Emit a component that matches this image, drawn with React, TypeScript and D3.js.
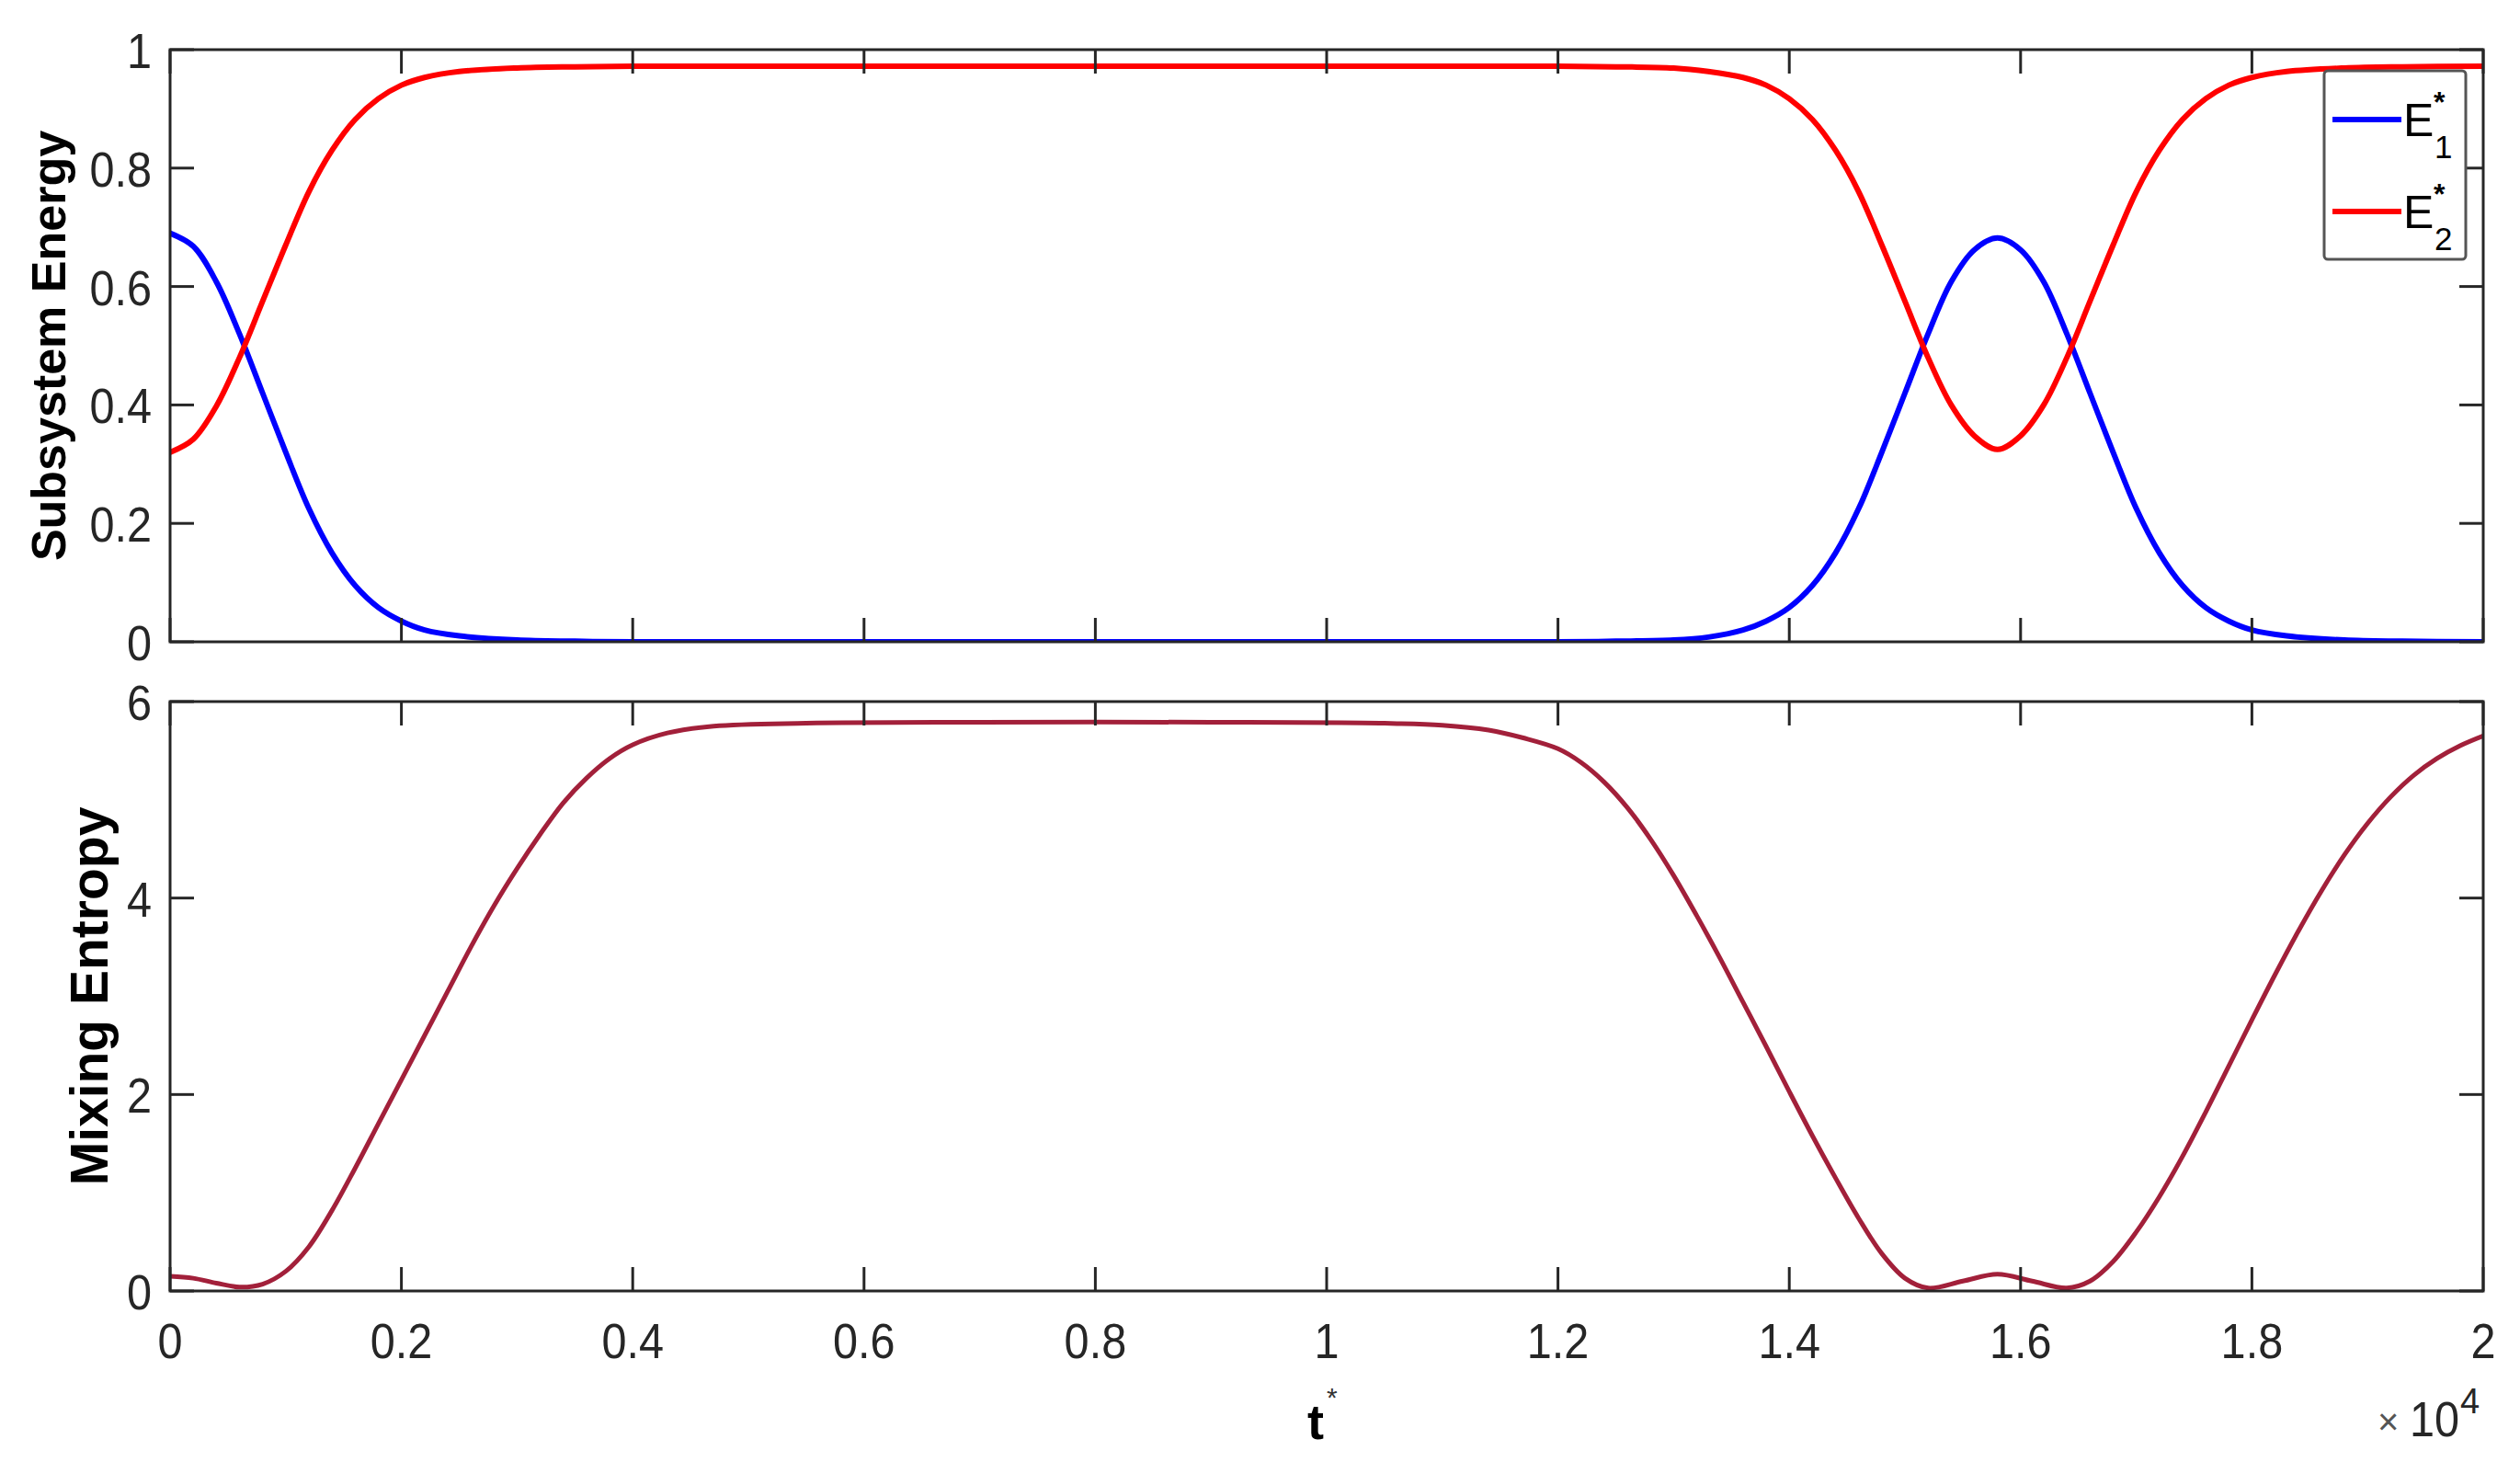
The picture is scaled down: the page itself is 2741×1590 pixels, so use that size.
import React from "react";
import * as d3 from "d3";

// ---- data (t in units of 1e4) ----
const energyT = [0,0.02,0.04,0.06,0.08,0.10,0.12,0.14,0.16,0.18,0.20,0.22,0.25,0.30,0.35,0.40,0.60,0.80,1.00,1.20,1.25,1.30,1.33,1.36,1.38,1.40,1.42,1.44,1.46,1.48,1.50,1.52,1.54,1.56,1.58,1.60,1.62,1.64,1.66,1.68,1.70,1.72,1.74,1.76,1.78,1.80,1.83,1.88,1.93,2.00];
const e1Values = [0.69,0.668,0.608,0.52,0.42,0.32,0.225,0.15,0.095,0.058,0.035,0.02,0.01,0.003,0.001,0,0,0,0,0,0.001,0.003,0.008,0.02,0.035,0.058,0.095,0.15,0.225,0.32,0.42,0.52,0.608,0.662,0.682,0.662,0.608,0.52,0.42,0.32,0.225,0.15,0.095,0.058,0.035,0.02,0.01,0.003,0.001,0];
const e2Values = [0.32,0.342,0.398,0.48,0.575,0.67,0.76,0.83,0.882,0.917,0.94,0.953,0.963,0.969,0.971,0.972,0.972,0.972,0.972,0.972,0.971,0.969,0.963,0.953,0.94,0.917,0.882,0.83,0.76,0.67,0.575,0.48,0.40,0.348,0.325,0.348,0.40,0.48,0.575,0.67,0.76,0.83,0.882,0.917,0.94,0.953,0.963,0.969,0.971,0.972];

const entropyT = [0,0.02,0.04,0.06,0.08,0.10,0.12,0.14,0.16,0.18,0.20,0.22,0.24,0.26,0.28,0.30,0.32,0.34,0.36,0.38,0.40,0.43,0.47,0.55,0.70,0.90,1.05,1.10,1.14,1.17,1.20,1.22,1.24,1.26,1.28,1.30,1.32,1.34,1.36,1.38,1.40,1.42,1.44,1.46,1.48,1.50,1.52,1.55,1.58,1.61,1.64,1.66,1.68,1.70,1.72,1.74,1.76,1.78,1.80,1.82,1.84,1.86,1.88,1.90,1.92,1.94,1.96,1.98,2.00];
const entropyValues = [0.15,0.13,0.08,0.04,0.07,0.2,0.45,0.82,1.25,1.7,2.15,2.6,3.05,3.5,3.92,4.3,4.65,4.97,5.22,5.42,5.56,5.68,5.75,5.78,5.79,5.79,5.78,5.76,5.71,5.63,5.52,5.38,5.18,4.92,4.6,4.23,3.82,3.39,2.94,2.49,2.03,1.58,1.15,0.74,0.38,0.13,0.03,0.1,0.17,0.1,0.03,0.1,0.3,0.6,0.96,1.37,1.82,2.29,2.76,3.22,3.66,4.07,4.44,4.76,5.03,5.25,5.42,5.55,5.65];

const xTicks = [0,0.2,0.4,0.6,0.8,1,1.2,1.4,1.6,1.8,2];
const xTickLabels = ["0","0.2","0.4","0.6","0.8","1","1.2","1.4","1.6","1.8","2"];
const energyTicks = [0,0.2,0.4,0.6,0.8,1];
const energyTickLabels = ["0","0.2","0.4","0.6","0.8","1"];
const entropyTicks = [0,2,4,6];
const entropyTickLabels = ["0","2","4","6"];

const W = 2741, H = 1590;
const X0 = 185, X1 = 2701;
const TOP = { y0: 54, y1: 698 };
const BOT = { y0: 763, y1: 1404 };
const AX = "#262626";
const FONT = "'Liberation Sans', Arial, Helvetica, sans-serif";
const TICK_FS = 54;
const TICK_LEN = 26;

function Axes({ y, yTicks, yLabels, showX }) {
  const x = d3.scaleLinear().domain([0, 2]).range([X0, X1]);
  const [ya, yb] = y.range();
  const top = Math.min(ya, yb), bot = Math.max(ya, yb);
  return (
    <g>
      {xTicks.map((t, i) => (
        <g key={"xt" + i}>
          <line x1={x(t)} x2={x(t)} y1={bot} y2={bot - TICK_LEN} stroke={AX} strokeWidth={3} />
          <line x1={x(t)} x2={x(t)} y1={top} y2={top + TICK_LEN} stroke={AX} strokeWidth={3} />
          {showX && (
            <g transform={`translate(${x(t)},${bot + 73}) scale(0.9,1)`}>
              <text textAnchor="middle" fontFamily={FONT} fontSize={TICK_FS} fill={AX}>{xTickLabels[i]}</text>
            </g>
          )}
        </g>
      ))}
      {yTicks.map((v, i) => (
        <g key={"yt" + i}>
          <line x1={X0} x2={X0 + TICK_LEN} y1={y(v)} y2={y(v)} stroke={AX} strokeWidth={3} />
          <line x1={X1} x2={X1 - TICK_LEN} y1={y(v)} y2={y(v)} stroke={AX} strokeWidth={3} />
          <g transform={`translate(${X0 - 20},${y(v) + 20}) scale(0.9,1)`}>
            <text textAnchor="end" fontFamily={FONT} fontSize={TICK_FS} fill={AX}>{yLabels[i]}</text>
          </g>
        </g>
      ))}
      <rect x={X0} y={top} width={X1 - X0} height={bot - top} fill="none" stroke={AX} strokeWidth={3} />
    </g>
  );
}

export default function App() {
  const x = d3.scaleLinear().domain([0, 2]).range([X0, X1]);
  const yE = d3.scaleLinear().domain([0, 1]).range([TOP.y1, TOP.y0]);
  const yS = d3.scaleLinear().domain([0, 6]).range([BOT.y1, BOT.y0]);
  const curve = d3.curveCatmullRom.alpha(0.5);

  const e1Path = d3.line<number>().x((_, i) => x(energyT[i])).y((v) => yE(v)).curve(curve)(e1Values);
  const e2Path = d3.line<number>().x((_, i) => x(energyT[i])).y((v) => yE(v)).curve(curve)(e2Values);
  const sPath = d3.line<number>().x((_, i) => x(entropyT[i])).y((v) => yS(v)).curve(curve)(entropyValues);

  return (
    <svg width={W} height={H} style={{ position: "absolute", left: 0, top: 0, background: "#fff" }}>
      <rect x={0} y={0} width={W} height={H} fill="#fff" />
      <defs>
        <clipPath id="clipTop"><rect x={X0} y={TOP.y0 - 4} width={X1 - X0} height={TOP.y1 - TOP.y0 + 4} /></clipPath>
        <clipPath id="clipBot"><rect x={X0} y={BOT.y0} width={X1 - X0} height={BOT.y1 - BOT.y0} /></clipPath>
      </defs>
      {/* top panel */}
      <g clipPath="url(#clipTop)">
        <path d={e1Path} fill="none" stroke="#0000ff" strokeWidth={6} />
        <path d={e2Path} fill="none" stroke="#ff0000" strokeWidth={6} />
      </g>
      <Axes y={yE} yTicks={energyTicks} yLabels={energyTickLabels} showX={false} />
      <text transform={`translate(71,${(TOP.y0 + TOP.y1) / 2}) rotate(-90)`} textAnchor="middle" fontFamily={FONT} fontWeight="bold" fontSize={52} fill="#000">Subsystem Energy</text>

      {/* legend */}
      <rect x={2528} y={77} width={154} height={205} rx={4} fill="#fff" stroke="#555" strokeWidth={3} />
      <line x1={2537} x2={2612} y1={130} y2={130} stroke="#0000ff" strokeWidth={6} />
      <line x1={2537} x2={2612} y1={230} y2={230} stroke="#ff0000" strokeWidth={6} />
      {[["1", 148], ["2", 248]].map(([sub, base]) => (
        <g key={sub}>
          <text x={2614} y={base} fontFamily={FONT} fontSize={50} fill="#000">E</text>
          <text x={2648} y={base + 24} fontFamily={FONT} fontSize={35} fill="#000">{sub}</text>
          <text x={2647} y={base - 26} fontFamily={FONT} fontSize={32} fontWeight="bold" fill="#000">*</text>
        </g>
      ))}

      {/* bottom panel */}
      <g clipPath="url(#clipBot)">
        <path d={sPath} fill="none" stroke="#a2203a" strokeWidth={5} />
      </g>
      <Axes y={yS} yTicks={entropyTicks} yLabels={entropyTickLabels} showX={true} />
      <text transform={`translate(117,${(BOT.y0 + BOT.y1) / 2}) rotate(-90)`} textAnchor="middle" fontFamily={FONT} fontWeight="bold" fontSize={57} fill="#000">Mixing Entropy</text>

      {/* x label */}
      <text x={1422} y={1565} fontFamily={FONT} fontWeight="bold" fontSize={54} fill="#000">t</text>
      <text x={1443} y={1530} fontFamily={FONT} fontSize={30} fill="#333">*</text>

      {/* exponent */}
      <text x={2586} y={1560} fontFamily={FONT} fontSize={40} fill="#555">×</text>
      <g transform="translate(2621,1562) scale(0.9,1)">
        <text x={0} y={0} fontFamily={FONT} fontSize={TICK_FS} fill={AX}>10</text>
      </g>
      <text x={2676} y={1537} fontFamily={FONT} fontSize={38} fill={AX}>4</text>
    </svg>
  );
}
